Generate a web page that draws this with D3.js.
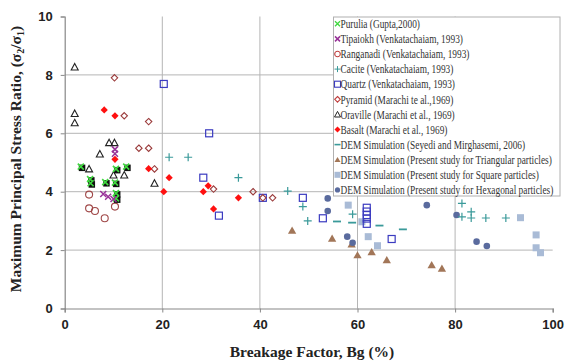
<!DOCTYPE html>
<html><head><meta charset="utf-8">
<script src="https://cdn.jsdelivr.net/npm/d3@7"></script>
<style>body{margin:0;background:#fff}svg{display:block}</style>
</head><body>
<svg id="c" width="573" height="363"></svg>
<script>
const xTicks = [0, 20, 40, 60, 80, 100];
const yTicks = [0, 2, 4, 6, 8, 10];
const purulia = [[3.3,4.86],[5.2,4.43],[5.3,4.29],[8.3,4.33],[10.3,4.31],[10.5,4.78],[12.6,4.86],[10.5,3.95],[10.5,3.77]];
const tipaiokh = [[10.3,5.45],[10.3,5.3],[7.9,3.92],[8.9,3.83],[10.0,3.75]];
const ranganadi = [[5.0,3.9],[5.0,3.43],[6.2,3.34],[8.2,3.09],[10.3,3.49]];
const cacite = [[21.4,5.18],[25.3,5.18],[35.6,4.48],[45.7,4.02],[48.8,3.49],[49.8,3.0],[59.0,3.23],[81.4,3.6],[81.4,3.14],[83.3,3.31],[83.3,3.1],[86.3,3.1],[90.4,3.1]];
const quartz = [[20.3,7.69],[29.6,6.0],[28.4,4.48],[31.6,3.18],[40.6,3.79],[48.8,3.79],[52.9,3.09],[61.9,3.45],[61.9,3.32],[61.9,3.2],[61.9,3.08],[61.9,2.9],[67.0,2.38]];
const pyramid = [[10.2,7.9],[12.2,6.6],[17.2,6.4],[15.2,5.49],[17.2,5.49],[18.4,4.78],[30.5,4.09],[38.6,4.0],[40.6,3.79],[42.6,3.79]];
const oraville = [[2.05,8.27],[2.05,6.68],[2.05,6.36],[9.1,5.68],[10.2,5.68],[7.2,5.29],[5.0,4.78],[10.0,4.57],[12.2,4.57],[18.4,4.29]];
const basalt = [[8.1,6.8],[10.3,6.6],[10.3,5.11],[17.2,4.79],[21.4,4.48],[20.3,4.0],[29.4,4.2],[28.4,4.0],[35.6,3.79],[30.5,3.41]];
const seyedi = [[55.8,2.98],[58.9,2.94],[64.5,2.84],[69.3,2.71]];
const triangular = [[46.6,2.64],[54.8,2.37],[58.8,2.17],[60.0,1.8],[62.9,1.91],[66.0,1.63],[75.2,1.46],[77.3,1.34]];
const square = [[58.1,3.54],[60.9,2.97],[62.2,2.46],[64.1,2.15],[93.4,3.11],[96.6,2.52],[96.6,2.08],[97.5,1.91]];
const hexagonal = [[53.9,3.77],[53.9,3.34],[57.9,2.46],[59.0,2.25],[74.2,3.54],[80.3,3.2],[84.4,2.29],[86.5,2.14]];
const legendLabels = [
  "Purulia (Gupta,2000)",
  "Tipaiokh (Venkatachaiam, 1993)",
  "Ranganadi (Venkatachaiam, 1993)",
  "Cacite (Venkatachaiam, 1993)",
  "Quartz (Venkatachaiam, 1993)",
  "Pyramid (Marachi te al.,1969)",
  "Oraville (Marachi et al., 1969)",
  "Basalt (Marachi et al., 1969)",
  "DEM Simulation (Seyedi and Mirghasemi, 2006)",
  "DEM Simulation (Present study for Triangular particles)",
  "DEM Simulation (Present study for Square particles)",
  "DEM Simulation (Present study for Hexagonal particles)"
];

const svg = d3.select("#c");
const x = d3.scaleLinear().domain([0, 100]).range([64.7, 552.7]);
const y = d3.scaleLinear().domain([0, 10]).range([308.5, 16.5]);

// gridlines
const g = svg.append("g");
g.selectAll(".vg").data([20,40,60,80]).join("line")
  .attr("x1", d => x(d)).attr("x2", d => x(d)).attr("y1", y(0)).attr("y2", y(10))
  .attr("stroke", "#b5b5b5").attr("stroke-width", 1);
g.selectAll(".hg").data([2,4,6,8]).join("line")
  .attr("y1", d => y(d)).attr("y2", d => y(d)).attr("x1", x(0)).attr("x2", x(100))
  .attr("stroke", "#b5b5b5").attr("stroke-width", 1);

// axes
const xAxis = svg.append("g").attr("transform", `translate(0,${y(0)})`)
  .call(d3.axisBottom(x).tickValues(xTicks).tickSize(4).tickPadding(7).tickFormat(d3.format("d")));
const yAxis = svg.append("g").attr("transform", `translate(${x(0)},0)`)
  .call(d3.axisLeft(y).tickValues(yTicks).tickSize(4).tickPadding(8).tickFormat(d3.format("d")));
[xAxis, yAxis].forEach(a => {
  a.select(".domain").attr("stroke", "#888").attr("stroke-width", 1.2);
  a.selectAll(".tick line").attr("stroke", "#888");
  a.selectAll("text").attr("font-family", "Liberation Sans, Arial, sans-serif")
    .attr("font-size", 13).attr("font-weight", "bold").attr("fill", "#222");
});

// markers
const layer = svg.append("g");
function pts(data) { return layer.append("g").selectAll("g").data(data).join("g")
  .attr("transform", d => `translate(${x(d[0])},${y(d[1])})`); }

// DEM series
pts(square).append("rect").attr("x", -3.5).attr("y", -3.5).attr("width", 7).attr("height", 7).attr("fill", "#a9bbd6");
pts(triangular).append("path").attr("d", d3.symbol(d3.symbolTriangle, 30)).attr("fill", "#a27658");
pts(hexagonal).append("circle").attr("r", 3.3).attr("fill", "#5a6b9e");
pts(seyedi).append("line").attr("x1", -4).attr("x2", 4).attr("stroke", "#3a9a9a").attr("stroke-width", 1.8);

// experimental
pts(cacite).append("path").attr("d", "M-4,0H4M0,-4V4").attr("stroke", "#3a9a9a").attr("stroke-width", 1.2).attr("fill", "none");
pts(quartz).append("rect").attr("x", -3.5).attr("y", -3.5).attr("width", 7).attr("height", 7)
  .attr("fill", "none").attr("stroke", "#3b3bc0").attr("stroke-width", 1.2);
pts(ranganadi).append("circle").attr("r", 3.5).attr("fill", "none").attr("stroke", "#a04848").attr("stroke-width", 1.1);
pts(pyramid).append("path").attr("d", "M0,-3.2L3.2,0L0,3.2L-3.2,0Z").attr("fill", "none").attr("stroke", "#9a3a3a").attr("stroke-width", 1.1);
pts(oraville).append("path").attr("d", "M0,-3.5L3.5,3L-3.5,3Z").attr("fill", "none").attr("stroke", "#222").attr("stroke-width", 1.1);
pts(basalt).append("path").attr("d", "M0,-3.6L3.6,0L0,3.6L-3.6,0Z").attr("fill", "#ff1010");
const pu = pts(purulia);
pu.append("rect").attr("x", -2).attr("y", -2).attr("width", 6.5).attr("height", 6.5).attr("fill", "#111");
pu.append("path").attr("d", "M-3,-3L3,3M-3,3L3,-3").attr("stroke", "#3fd83f").attr("stroke-width", 1.6);
pts(tipaiokh).append("path").attr("d", "M-3,-3L3,3M-3,3L3,-3").attr("stroke", "#993399").attr("stroke-width", 1.5);

// legend
const lg = svg.append("g");
lg.append("rect").attr("x", 333.5).attr("y", 17).attr("width", 226.5).attr("height", 179)
  .attr("fill", "#fff").attr("stroke", "#b0b0b0").attr("stroke-width", 1);
const ly = i => 23.8 + i * 15.1;
const mk = (i) => lg.append("g").attr("transform", `translate(337.5,${ly(i)})`);
mk(0).append("path").attr("d", "M-2.5,-2.5L2.5,2.5M-2.5,2.5L2.5,-2.5").attr("stroke", "#3fd83f").attr("stroke-width", 1.3);
mk(1).append("path").attr("d", "M-2.5,-2.5L2.5,2.5M-2.5,2.5L2.5,-2.5").attr("stroke", "#993399").attr("stroke-width", 1.5);
mk(2).append("circle").attr("r", 2.8).attr("fill", "none").attr("stroke", "#c04040").attr("stroke-width", 1.1);
mk(3).append("path").attr("d", "M-3,0H3M0,-3V3").attr("stroke", "#3a9a9a").attr("stroke-width", 1);
mk(4).append("rect").attr("x", -3).attr("y", -3).attr("width", 6).attr("height", 6).attr("fill", "none").attr("stroke", "#3b3bc0").attr("stroke-width", 1.1);
mk(5).append("path").attr("d", "M0,-2.8L2.8,0L0,2.8L-2.8,0Z").attr("fill", "none").attr("stroke", "#c04040").attr("stroke-width", 1.1);
mk(6).append("path").attr("d", "M0,-3L3,2.6L-3,2.6Z").attr("fill", "none").attr("stroke", "#222").attr("stroke-width", 1);
mk(7).append("path").attr("d", "M0,-3L3,0L0,3L-3,0Z").attr("fill", "#ff1010");
mk(8).append("line").attr("x1", -3).attr("x2", 3).attr("stroke", "#3a9a9a").attr("stroke-width", 1.6);
mk(9).append("path").attr("d", "M0,-2.8L3,2.4L-3,2.4Z").attr("fill", "#a27658");
mk(10).append("rect").attr("x", -3).attr("y", -3).attr("width", 6).attr("height", 6).attr("fill", "#a9bbd6");
mk(11).append("circle").attr("r", 2.6).attr("fill", "#5a6b9e");
const texts = lg.append("g").attr("font-family", "Liberation Serif, Times New Roman, serif")
  .attr("font-size", 12).attr("fill", "#333");
const tEls = texts.selectAll("text").data(legendLabels).join("text")
  .attr("x", 0).attr("y", 0).attr("dy", "0.35em").text(d => d);
let maxW = 0;
tEls.each(function(){ maxW = Math.max(maxW, this.getComputedTextLength()); });
const k = 213 / maxW;
tEls.attr("transform", (d, i) => `translate(340.5,${ly(i)}) scale(${k},1)`);

// axis titles
svg.append("text").attr("x", 312).attr("y", 357).attr("text-anchor", "middle")
  .attr("font-family", "Liberation Serif, Times New Roman, serif").attr("font-weight", "bold").attr("font-size", 15.5)
  .attr("fill", "#222").text("Breakage Factor, Bg (%)");
const yt = svg.append("text").attr("transform", "translate(21,159) rotate(-90)").attr("text-anchor", "middle")
  .attr("font-family", "Liberation Serif, Times New Roman, serif").attr("font-weight", "bold").attr("font-size", 15.5)
  .attr("fill", "#222");
yt.append("tspan").text("Maximum Principal Stress Ratio, (σ");
yt.append("tspan").attr("font-size", 10).attr("dy", 3).text("2");
yt.append("tspan").attr("dy", -3).text("/σ");
yt.append("tspan").attr("font-size", 10).attr("dy", 3).text("1");
yt.append("tspan").attr("dy", -3).text(")");
</script>
</body></html>
